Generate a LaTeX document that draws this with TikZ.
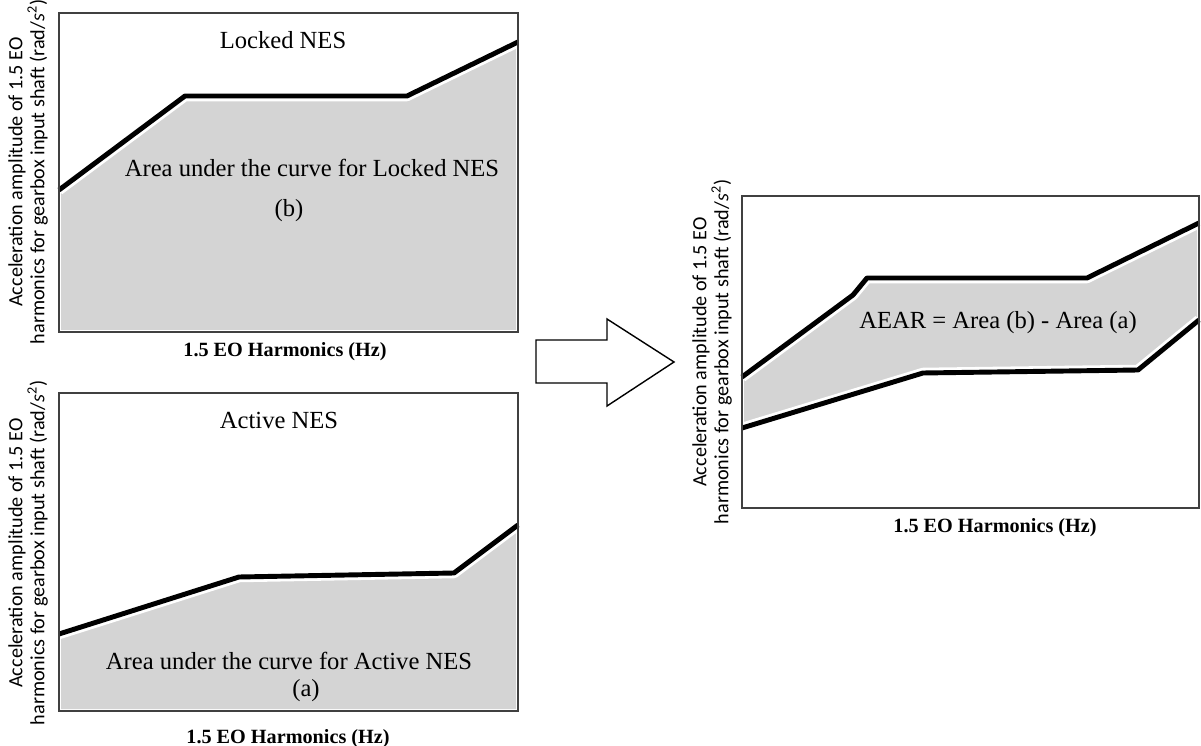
\documentclass[tikz,border=0pt]{standalone}
\usepackage{fontspec}
\setmainfont{Liberation Serif}
\newfontfamily\labelfont{Carlito}
\usetikzlibrary{positioning}

\newcommand{\yaxistext}{Acceleration amplitude of 1.5 EO\\harmonics for gearbox input shaft (rad/\textit{s}\textsuperscript{2})}

\begin{document}
\begin{tikzpicture}[x=0.02cm,y=-0.02cm,
	frame/.style={draw=black!75,line width=0.9pt},
	curve/.style={line width=2.8pt,line join=round},
	halo/.style={white,line width=6pt,line join=round},
	shade/.style={fill=black!17},
	ytitle/.style={rotate=90,font=\labelfont\fontsize{11.5}{12.5}\selectfont,align=center},
	xtitle/.style={font=\bfseries\fontsize{11.5}{13}\selectfont},
	caption/.style={font=\fontsize{14}{16}\selectfont,align=center}]

	\useasboundingbox (0,0) rectangle (1201,746);

	% locked NES
	\fill[shade] (61,192) -- (185,98) -- (407,98) -- (516,44) -- (516,330) -- (61,330) -- cycle;
	\draw[halo] (59,190) -- (185,96) -- (407,96) -- (518,42);
	\draw[curve] (59,190) -- (185,96) -- (407,96) -- (518,42);
	\draw[frame] (59,13) rectangle (518,332);
	\node[caption] (locked) at (283,40) {Locked NES};
	\node[caption] (areab) at (312,168) {Area under the curve for Locked NES};
	\node[caption] (b) at (289,211) {(b)};
	\node[ytitle] (ylocked) at (28,172) {\yaxistext};
	\node[xtitle] (xlocked) at (285,352) {1.5 EO Harmonics (Hz)};

	% active NES
	\fill[shade] (61,636) -- (239,579) -- (454,575) -- (516,527) -- (516,709) -- (61,709) -- cycle;
	\draw[halo] (59,634) -- (239,577) -- (454,573) -- (518,525);
	\draw[curve] (59,634) -- (239,577) -- (454,573) -- (518,525);
	\draw[frame] (59,393) rectangle (518,711);
	\node[caption] (active) at (279,420) {Active NES};
	\node[caption] (areaa) at (289,661) {Area under the curve for Active NES};
	\node[caption] (a) at (306,691) {(a)};
	\node[ytitle] (yactive) at (28,553) {\yaxistext};
	\node[xtitle] (xactive) at (288,739) {1.5 EO Harmonics (Hz)};

	% arrow
	\draw[line width=0.8pt,line join=miter] (536,340) -- (607,340) -- (607,319) -- (674,362)
		-- (607,406) -- (607,383) -- (536,383) -- cycle;

	% AEAR
	\fill[shade] (744,379) -- (853,297) -- (867,280) -- (1087,280) -- (1197,226)
		-- (1197,322) -- (1138,372) -- (923,375) -- (744,426) -- cycle;
	\draw[halo] (742,377) -- (853,295) -- (867,278) -- (1087,278) -- (1199,223);
	\draw[halo] (742,428) -- (923,373) -- (1138,370) -- (1199,320);
	\draw[curve] (742,377) -- (853,295) -- (867,278) -- (1087,278) -- (1199,223);
	\draw[curve] (742,428) -- (923,373) -- (1138,370) -- (1199,320);
	\draw[frame] (742,196) rectangle (1199,508);
	\node[caption] (aear) at (998,323) {AEAR = Area (b) - Area (a)};
	\node[ytitle] (yaear) at (712,352) {\yaxistext};
	\node[xtitle] (xaear) at (995,528) {1.5 EO Harmonics (Hz)};

\end{tikzpicture}
\end{document}
